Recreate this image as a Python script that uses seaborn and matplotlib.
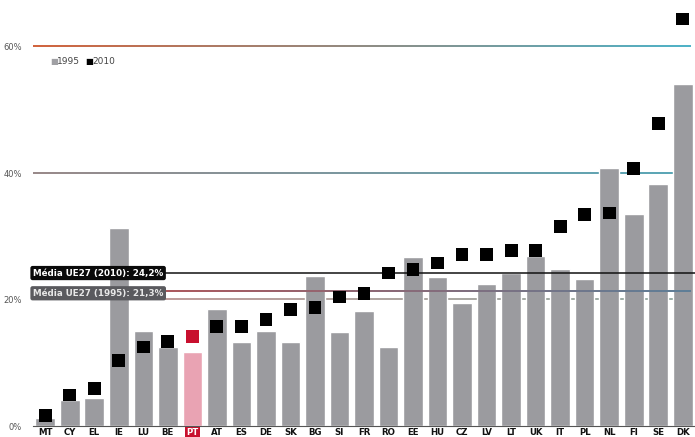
import numpy as np
import pandas as pd
import matplotlib
matplotlib.use("Agg")
import matplotlib.pyplot as plt
import seaborn as sns
from matplotlib.colors import LinearSegmentedColormap

countries = ["MT", "CY", "EL", "IE", "LU", "BE", "PT", "AT", "ES", "DE", "SK", "BG", "SI", "FR",
             "RO", "EE", "HU", "CZ", "LV", "LT", "UK", "IT", "PL", "NL", "FI", "SE", "DK"]
v1995 = [1.2, 4.1, 4.4, 31.3, 15.0, 12.5, 11.7, 18.5, 13.3, 15.0, 13.3, 23.7, 14.9, 18.2,
         12.5, 26.7, 23.6, 19.5, 22.5, 24.2, 26.9, 24.8, 23.3, 40.8, 33.5, 38.3, 54.1]
v2010 = [1.7, 4.9, 5.9, 10.3, 12.5, 13.4, 14.2, 15.7, 15.8, 16.9, 18.4, 18.8, 20.4, 21.0,
         24.2, 24.8, 25.8, 27.1, 27.1, 27.8, 27.8, 31.6, 33.4, 33.7, 40.7, 47.9, 64.4]
avg2010 = 24.2
avg1995 = 21.3
yticks = [0, 20, 40, 60]
ytick_labels = ["0%", "20%", "40%", "60%"]
highlight = "PT"

df = pd.DataFrame({"country": countries, "y1995": v1995, "y2010": v2010})

sns.set_style("white")
plt.rcParams['font.family'] = ['DejaVu Sans']

fig = plt.figure(figsize=(6.95, 4.37), dpi=100)
ax = fig.add_axes([33 / 695, 11 / 437, 1 - 33 / 695, 1 - 11 / 437])

bar_colors = {c: ("#e9a3b3" if c == highlight else "#9b9b9f") for c in countries}
sns.barplot(data=df, x="country", y="y1995", hue="country", palette=bar_colors,
            width=0.8, legend=False, ax=ax, zorder=2, saturation=1)

X0, X1 = -0.49, 26.33
ax.set_xlim(X0, X1)
ax.set_ylim(0, 67.4)


def grad_line(y, c1, c2, h=0.17, z=1):
    cmap = LinearSegmentedColormap.from_list("g", [c1, c2])
    grad = np.linspace(0, 1, 256).reshape(1, -1)
    ax.imshow(grad, cmap=cmap, extent=[X0, X1, y - h / 2, y + h / 2], aspect="auto",
              interpolation="bilinear", zorder=z)


grad_line(60, "#d2653f", "#4fb3c8")
grad_line(40, "#9a8a8a", "#5aa8b8")
grad_line(20, "#c89a9a", "#9ab0a8")
grad_line(avg1995, "#c05050", "#5f7f98", z=3)
ax.axhline(avg2010, color="#111111", lw=1.1, zorder=3)
ax.set_xlim(X0, X1)
ax.set_ylim(0, 67.4)

sq_colors = {c: ("#c8102e" if c == highlight else "#000000") for c in countries}
sns.scatterplot(data=df, x="country", y="y2010", hue="country", palette=sq_colors,
                marker="s", s=85, linewidth=0, legend=False, ax=ax, zorder=5)

# average labels
ax.text(0.0, avg2010, "Média UE27 (2010): 24,2%", fontsize=6.3, fontweight="bold",
        color="white", va="center", ha="left", zorder=6,
        transform=ax.get_yaxis_transform(),
        bbox=dict(boxstyle="round,pad=0.3,rounding_size=0.25", fc="#0a0a0a", ec="none"))
ax.text(0.0, avg1995 - 0.3, "Média UE27 (1995): 21,3%", fontsize=6.3, fontweight="bold",
        color="#e8e8e8", va="center", ha="left", zorder=6,
        transform=ax.get_yaxis_transform(),
        bbox=dict(boxstyle="round,pad=0.3,rounding_size=0.25", fc="#5a5a5e", ec="none"))

# legend
ax.text(0.22, 57.6, "■", fontsize=6, color="#a0a0a4", va="center", ha="left")
ax.text(0.49, 57.6, "1995", fontsize=6.5, color="#444444", va="center", ha="left")
ax.text(1.64, 57.6, "■", fontsize=6, color="#000000", va="center", ha="left")
ax.text(1.91, 57.6, "2010", fontsize=6.5, color="#444444", va="center", ha="left")

ax.set_yticks(yticks)
ax.set_yticklabels(ytick_labels, fontsize=6, color="#555555")
ax.tick_params(axis="y", length=0, pad=8)
ax.set_xlabel("")
ax.set_ylabel("")
ax.set_xticks(range(len(countries)))
ax.set_xticklabels(countries, fontsize=6.2, fontweight="bold", color="#111111")
ax.tick_params(axis="x", length=0, pad=1.5)
ax.set_xticks(np.arange(-0.5, len(countries), 1), minor=True)
ax.tick_params(axis="x", which="minor", length=3, color="#444444", width=0.8)
for lab in ax.get_xticklabels():
    if lab.get_text() == highlight:
        lab.set_color("white")
        lab.set_bbox(dict(boxstyle="square,pad=0.2", fc="#c8102e", ec="none"))

for s in ["top", "right", "left"]:
    ax.spines[s].set_visible(False)
ax.spines["bottom"].set_color("#555555")
ax.spines["bottom"].set_linewidth(0.8)

fig.savefig("out.png", dpi=100)
